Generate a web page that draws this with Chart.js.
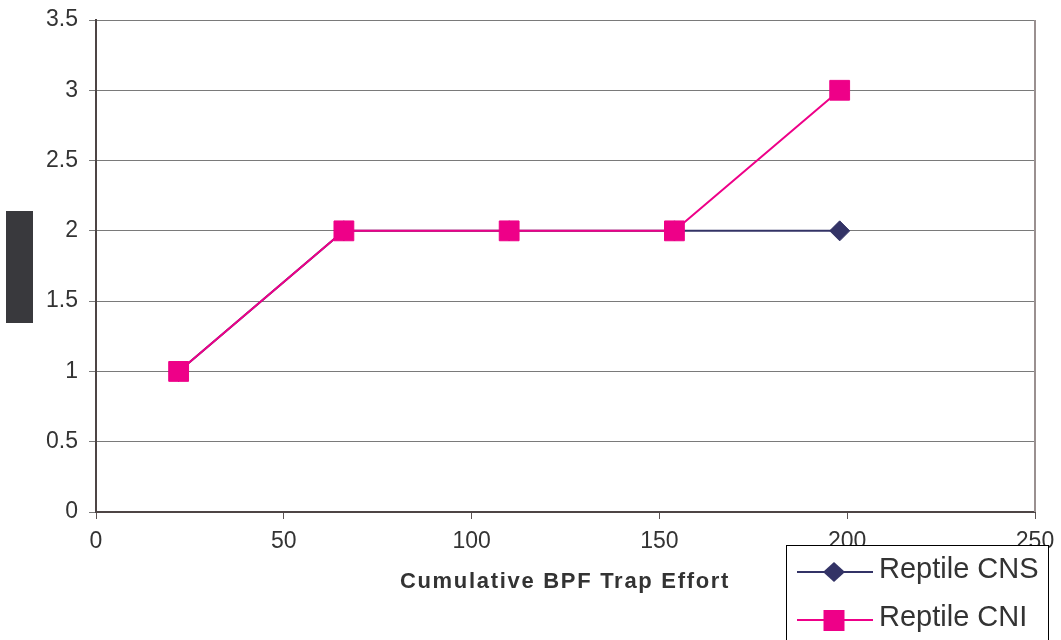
<!DOCTYPE html>
<html>
<head>
<meta charset="utf-8">
<script src="https://cdn.jsdelivr.net/npm/chart.js@4/dist/chart.umd.min.js"></script>
<style>
  html, body { margin: 0; padding: 0; background: #fff; }
  #wrap { width: 1061px; height: 640px; position: relative; }
</style>
</head>
<body>
<div id="wrap"><canvas id="effortChart"></canvas></div>
<script>
// data
const trapEffort = [22, 66, 110, 154, 198];
const reptileCNS = [1, 2, 2, 2, 2];
const reptileCNI = [1, 2, 2, 2, 3];
const seriesNames = ["Reptile CNS", "Reptile CNI"];
const xTitle = "Cumulative BPF Trap Effort";

const toPoints = (ys) => ys.map((y, i) => ({ x: trapEffort[i], y }));

// extras Chart.js does not draw itself: frame edge, y title block, x title, legend box
const extras = {
  id: "extras",
  afterDraw(chart) {
    const ctx = chart.ctx;
    const a = chart.chartArea;
    ctx.save();

    // right edge of plot area
    ctx.strokeStyle = "#9a9090";
    ctx.lineWidth = 2;
    ctx.beginPath();
    ctx.moveTo(a.right, a.top);
    ctx.lineTo(a.right, a.bottom);
    ctx.stroke();

    // dark block where the y title sits
    ctx.fillStyle = "#39393d";
    ctx.fillRect(6, 211, 27, 112);

    // x title
    ctx.fillStyle = "#333";
    ctx.font = "bold 22px 'Liberation Sans', Arial, sans-serif";
    ctx.letterSpacing = "1.7px";
    ctx.textAlign = "center";
    ctx.textBaseline = "alphabetic";
    ctx.fillText(xTitle, 565, 588);
    ctx.letterSpacing = "0px";

    // legend
    ctx.fillStyle = "#fff";
    ctx.fillRect(786.5, 545.5, 262, 100);
    ctx.strokeStyle = "#000";
    ctx.lineWidth = 1;
    ctx.strokeRect(786.5, 545.5, 262, 100);

    const ds = chart.data.datasets;
    ds.forEach((d, i) => {
      const y = 572 + i * 48;
      ctx.strokeStyle = d.borderColor;
      ctx.lineWidth = 2;
      ctx.beginPath();
      ctx.moveTo(797, y);
      ctx.lineTo(873, y);
      ctx.stroke();

      ctx.fillStyle = d.pointBackgroundColor;
      ctx.beginPath();
      if (d.pointStyle === "rectRot") {
        ctx.moveTo(834, y - 10);
        ctx.lineTo(845, y);
        ctx.lineTo(834, y + 10);
        ctx.lineTo(823, y);
        ctx.closePath();
      } else {
        ctx.rect(823.5, y - 10, 21, 21);
      }
      ctx.fill();

      ctx.fillStyle = "#333";
      ctx.font = "29px 'Liberation Sans', Arial, sans-serif";
      ctx.textAlign = "left";
      ctx.textBaseline = "middle";
      ctx.fillText(d.label, 879, y - 2);
    });

    ctx.restore();
  }
};

const tickFont = { family: "'Liberation Sans', Arial, sans-serif", size: 23 };

new Chart(document.getElementById("effortChart"), {
  type: "line",
  data: {
    datasets: [
      {
        label: seriesNames[0],
        data: toPoints(reptileCNS),
        borderColor: "#333366",
        backgroundColor: "#333366",
        pointBackgroundColor: "#333366",
        pointBorderColor: "#333366",
        pointStyle: "rectRot",
        pointRadius: 10,
        pointBorderWidth: 1,
        borderWidth: 2,
        tension: 0,
        order: 1
      },
      {
        label: seriesNames[1],
        data: toPoints(reptileCNI),
        borderColor: "#ee0088",
        backgroundColor: "#ee0088",
        pointBackgroundColor: "#ee0088",
        pointBorderColor: "#ee0088",
        pointStyle: "rect",
        pointRadius: 14,
        pointBorderWidth: 1,
        borderWidth: 2,
        tension: 0,
        order: 0
      }
    ]
  },
  options: {
    responsive: true,
    maintainAspectRatio: false,
    animation: false,
    layout: { padding: { top: 20, right: 26, left: 0, bottom: 0 } },
    plugins: {
      legend: { display: false },
      tooltip: { enabled: false }
    },
    scales: {
      x: {
        type: "linear",
        min: 0,
        max: 250,
        ticks: {
          stepSize: 50,
          color: "#333",
          padding: 9,
          maxRotation: 0,
          font: tickFont
        },
        grid: { drawOnChartArea: false, tickLength: 7, color: "#5b5353" },
        border: { color: "#4d4545", width: 2 },
        afterFit(scale) {
          scale.height = 128;
          scale.paddingLeft = 0;
          scale.paddingRight = 0;
        }
      },
      y: {
        min: 0,
        max: 3.5,
        ticks: {
          stepSize: 0.5,
          color: "#333",
          padding: 11,
          font: tickFont,
          callback: (v) => String(v)
        },
        grid: { color: "#7a7a7a", tickLength: 7, lineWidth: 1 },
        border: { color: "#4d4545", width: 2 },
        afterFit(scale) {
          scale.width = 96;
          scale.paddingTop = 0;
          scale.paddingBottom = 0;
        }
      }
    }
  },
  plugins: [extras]
});
</script>
</body>
</html>
